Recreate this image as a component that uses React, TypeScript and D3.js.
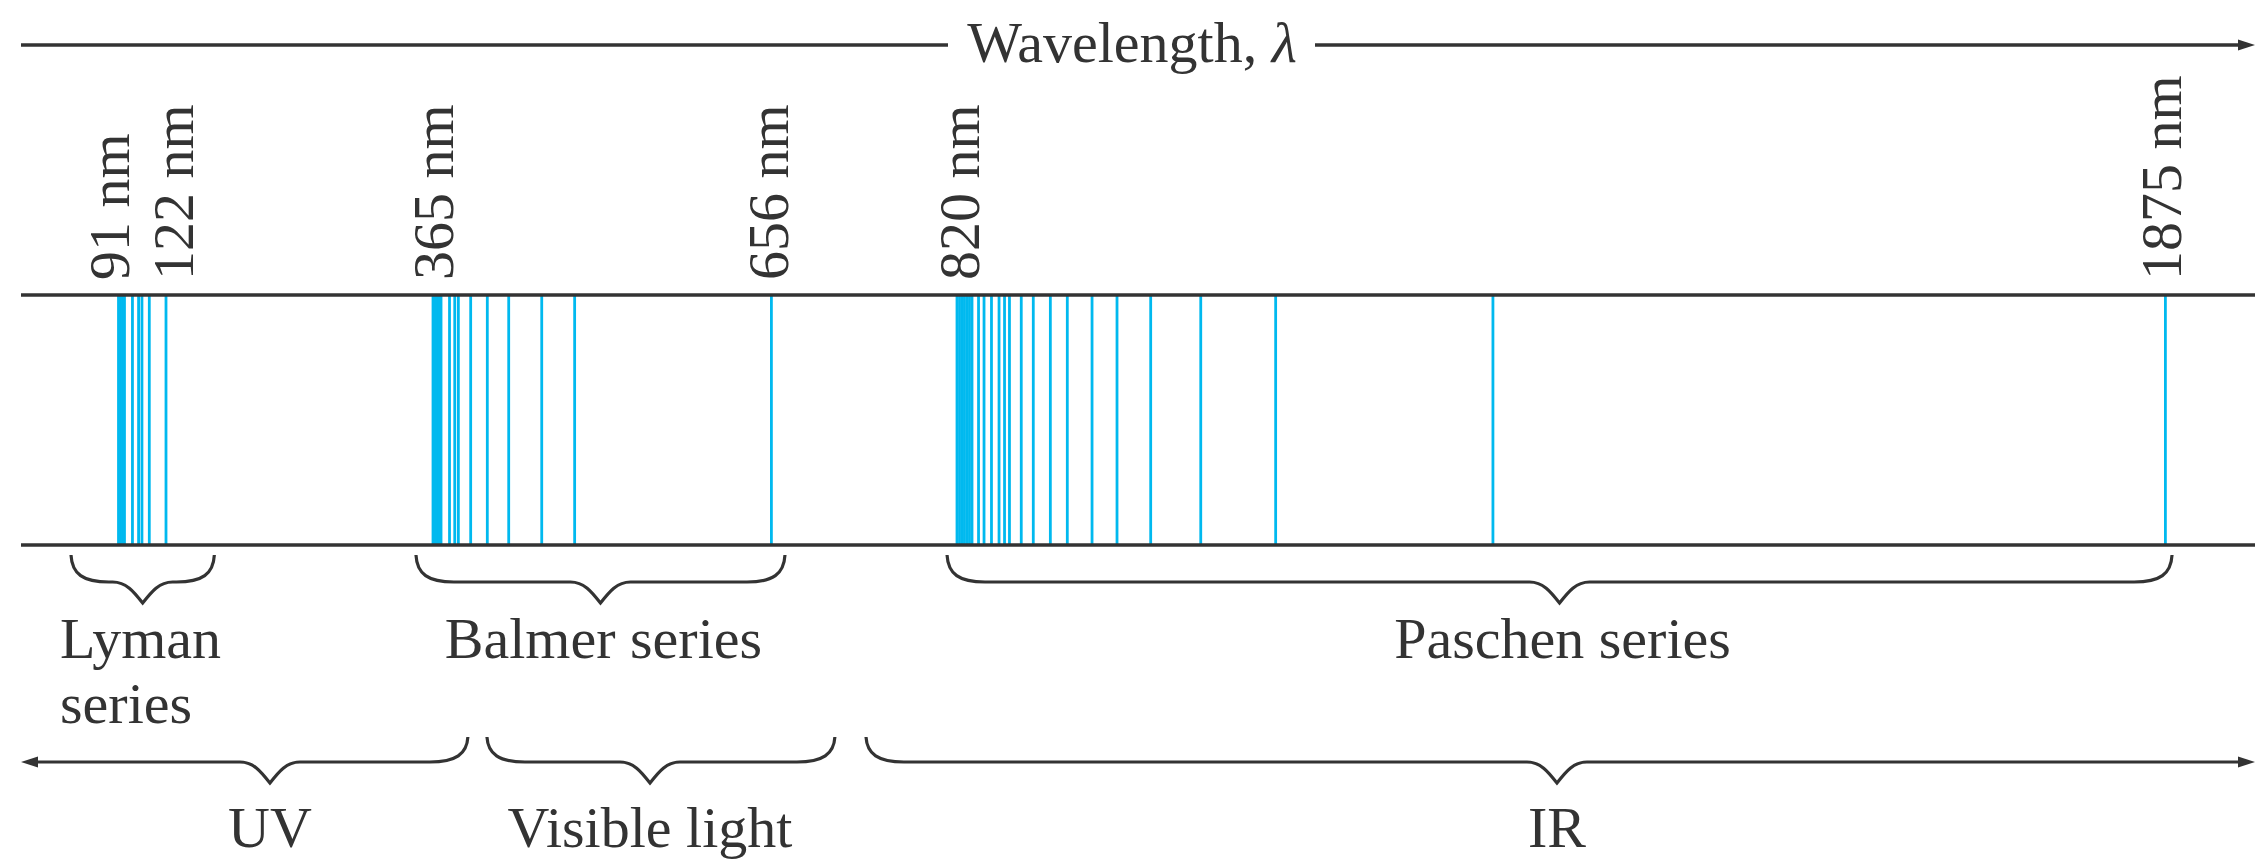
import React from 'react';
import * as d3 from 'd3';

const W = 2255;
const H = 859;

// Labelled wavelengths (nm)
const tickValues = [91, 122, 365, 656, 820, 1875];
const tickLabels = ['91 nm', '122 nm', '365 nm', '656 nm', '820 nm', '1875 nm'];

// Spectral lines (nm)
const lymanLines = [91.0, 92.3, 93.6, 94.9, 100.1, 104.1, 106.3, 111.1, 122.0];
const balmerLines = [365.0, 366.7, 368.4, 370.2, 371.9, 379.2, 383.7, 386.8, 397.4, 411.7, 430.1, 458.5, 486.8, 656.0];
const paschenLines = [820.0, 822.2, 824.4, 826.5, 828.7, 830.9, 833.1, 838.8, 843.6, 850.1, 856.7, 861.5, 865.8, 876.1, 886.6, 901.5, 916.3, 937.9, 959.7, 989.1, 1032.8, 1098.2, 1287.9, 1875.0];

// Series braces (nm)
const seriesNames = [['Lyman', 'series'], ['Balmer series'], ['Paschen series']];
const seriesFrom = [60, 349.5, 811.2];
const seriesTo = [166, 668, 1880.8];

// Spectral regions (nm); null = open-ended arrow
const regionNames = ['UV', 'Visible light', 'IR'];
const regionFrom: (number | null)[] = [null, 411.4, 739.6];
const regionTip = [216.6, 551.6, 1343.8];
const regionTo: (number | null)[] = [395.0, 712.1, null];

const INK = '#333333';
const BLUE = '#00b9ef';
const FONT = '"Liberation Serif", "Times New Roman", serif';
const FS = 58;

function bracePath(
  x0: number | null,
  x1: number | null,
  xc: number,
  yTop: number,
  yMid: number,
  yTip: number,
  left: number,
  right: number
) {
  const r = 38;
  const f = 30;
  const dh = yTip - yMid;
  let d = '';
  if (x0 === null) {
    d += `M${left},${yMid}`;
  } else {
    d += `M${x0},${yTop} C${x0 + 1},${yMid - 8} ${x0 + 12},${yMid} ${x0 + r},${yMid}`;
  }
  d += ` L${xc - f},${yMid} C${xc - f * 0.55},${yMid} ${xc - f * 0.3},${yMid + dh * 0.45} ${xc},${yTip}`;
  d += ` C${xc + f * 0.3},${yMid + dh * 0.45} ${xc + f * 0.55},${yMid} ${xc + f},${yMid}`;
  if (x1 === null) {
    d += ` L${right},${yMid}`;
  } else {
    d += ` L${x1 - r},${yMid} C${x1 - 12},${yMid} ${x1 - 1},${yMid - 8} ${x1},${yTop}`;
  }
  return d;
}

export default function App() {
  const x = d3
    .scaleLinear()
    .domain(tickValues)
    .range([118.5, 166, 433, 771.4, 957, 2165.4]);

  const left = 21;
  const right = W;
  const yAxis = 45;
  const yStripTop = 295;
  const yStripBot = 545;
  const labelNudge = [-9, 7, 0, -3, 2, -4];

  const allLines = [...lymanLines, ...balmerLines, ...paschenLines];

  const arrowR = (xt: number, y: number) =>
    `M${xt},${y} L${xt - 17},${y - 5.5} L${xt - 17},${y + 5.5} Z`;
  const arrowL = (xt: number, y: number) =>
    `M${xt},${y} L${xt + 17},${y - 5.5} L${xt + 17},${y + 5.5} Z`;

  const titleCx = 1132;

  return (
    <svg
      width={W}
      height={H}
      viewBox={`0 0 ${W} ${H}`}
      style={{ position: 'absolute', left: 0, top: 0, background: '#fff' }}
    >
      <rect x={0} y={0} width={W} height={H} fill="#fff" />

      {/* Wavelength axis arrow */}
      <line x1={left} x2={948} y1={yAxis} y2={yAxis} stroke={INK} strokeWidth={3.5} />
      <line x1={1315} x2={right - 12} y1={yAxis} y2={yAxis} stroke={INK} strokeWidth={3.5} />
      <path d={arrowR(right, yAxis)} fill={INK} />
      <text
        x={titleCx}
        y={62}
        textAnchor="middle"
        fontFamily={FONT}
        fontSize={FS}
        fill={INK}
      >
        Wavelength, <tspan fontStyle="italic">λ</tspan>
      </text>

      {/* Tick labels */}
      {tickValues.map((v, i) => (
        <text
          key={`t${i}`}
          transform={`translate(${x(v) + labelNudge[i]},280) rotate(-90)`}
          dy="0.34em"
          textAnchor="start"
          fontFamily={FONT}
          fontSize={FS}
          fill={INK}
        >
          {tickLabels[i]}
        </text>
      ))}

      {/* Spectral lines */}
      {allLines.map((v, i) => (
        <line
          key={`l${i}`}
          x1={x(v)}
          x2={x(v)}
          y1={yStripTop}
          y2={yStripBot}
          stroke={BLUE}
          strokeWidth={2.8}
        />
      ))}

      {/* Strip borders */}
      <line x1={left} x2={right} y1={yStripTop} y2={yStripTop} stroke={INK} strokeWidth={3.5} />
      <line x1={left} x2={right} y1={yStripBot} y2={yStripBot} stroke={INK} strokeWidth={3.5} />

      {/* Series braces */}
      {seriesNames.map((name, i) => {
        const x0 = x(seriesFrom[i]);
        const x1 = x(seriesTo[i]);
        const xc = (x0 + x1) / 2;
        return (
          <g key={`s${i}`}>
            <path
              d={bracePath(x0, x1, xc, 555, 582, 603, left, right)}
              fill="none"
              stroke={INK}
              strokeWidth={3.2}
            />
            {name.length > 1 ? (
              name.map((ln, j) => (
                <text
                  key={j}
                  x={x0 - 11}
                  y={658 + j * 65}
                  textAnchor="start"
                  fontFamily={FONT}
                  fontSize={FS}
                  fill={INK}
                >
                  {ln}
                </text>
              ))
            ) : (
              <text
                x={xc + 3}
                y={658}
                textAnchor="middle"
                fontFamily={FONT}
                fontSize={FS}
                fill={INK}
              >
                {name[0]}
              </text>
            )}
          </g>
        );
      })}

      {/* Region braces */}
      {regionNames.map((name, i) => {
        const f = regionFrom[i];
        const t = regionTo[i];
        const x0 = f === null ? null : x(f);
        const x1 = t === null ? null : x(t);
        const xc = x(regionTip[i]);
        return (
          <g key={`r${i}`}>
            <path
              d={bracePath(x0, x1, xc, 737, 762, 783, left + 12, right - 12)}
              fill="none"
              stroke={INK}
              strokeWidth={3.2}
            />
            {x0 === null && <path d={arrowL(left, 762)} fill={INK} />}
            {x1 === null && <path d={arrowR(right, 762)} fill={INK} />}
            <text
              x={xc}
              y={847}
              textAnchor="middle"
              fontFamily={FONT}
              fontSize={FS}
              fill={INK}
            >
              {name}
            </text>
          </g>
        );
      })}
    </svg>
  );
}
